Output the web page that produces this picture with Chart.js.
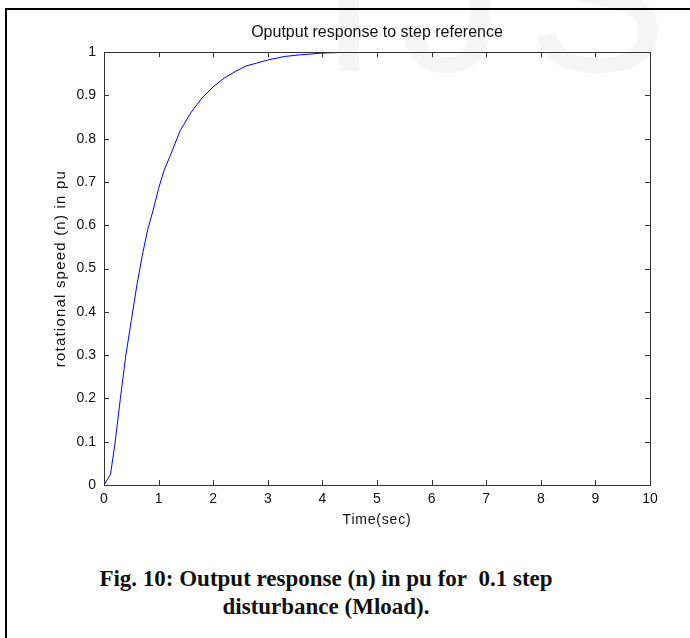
<!DOCTYPE html>
<html>
<head>
<meta charset="utf-8">
<script src="https://cdn.jsdelivr.net/npm/chart.js@4/dist/chart.umd.min.js"></script>
<style>
  body { margin: 0; background: #fff; width: 690px; height: 638px; overflow: hidden; position: relative; }
  #frame { position: absolute; left: 5px; top: 8px; width: 700px; height: 700px;
           border-top: 2px solid #000; border-left: 2px solid #000; }
  #mark { position: absolute; left: 320px; top: -122px; font: 210px "Liberation Sans", Arial, sans-serif;
          color: #f5f5f5; letter-spacing: 22px; white-space: nowrap; }
  #wrap { position: absolute; left: 0; top: 0; width: 690px; height: 540px; }
  #caption { position: absolute; left: 6px; top: 565px; width: 640px; text-align: center;
             font: bold 23px "Liberation Serif", "Times New Roman", serif; line-height: 28px; color: #111; }
</style>
</head>
<body>
<div id="mark">IJS</div>
<div id="frame"></div>
<div id="wrap"><canvas id="chart"></canvas></div>
<div id="caption">Fig. 10: Output response (n) in pu for&nbsp; 0.1 step<br>disturbance (Mload).</div>
<script>
// Data
const timeValues = [0, 0.05, 0.12, 0.2, 0.3, 0.4, 0.5, 0.6, 0.7, 0.8, 0.9, 1.0, 1.1, 1.2, 1.4, 1.6, 1.8, 2.0, 2.2, 2.4, 2.6, 2.8, 3.0, 3.3, 3.6, 4.0, 4.5, 5, 6, 7, 8, 9, 10];
const speedValues = [0, 0.01, 0.025, 0.095, 0.2, 0.3, 0.38, 0.46, 0.53, 0.59, 0.635, 0.685, 0.727, 0.757, 0.82, 0.862, 0.895, 0.92, 0.94, 0.955, 0.968, 0.975, 0.982, 0.99, 0.994, 0.998, 1.0, 1.0, 1.0, 1.0, 1.0, 1.0, 1.0];
const xTicks = [0, 1, 2, 3, 4, 5, 6, 7, 8, 9, 10];
const yTicks = [0, 0.1, 0.2, 0.3, 0.4, 0.5, 0.6, 0.7, 0.8, 0.9, 1];

const points = timeValues.map((t, i) => ({ x: t, y: speedValues[i] }));
const family = '"Liberation Sans", Arial, sans-serif';
const tickFont = { family: family, size: 14 };

// matlab spreads its axis labels out a bit
function spaced(obj, method, spacing) {
    const orig = obj[method];
    obj[method] = function (...args) {
        const c = this.ctx;
        const prev = c.letterSpacing;
        c.letterSpacing = spacing;
        orig.apply(this, args);
        c.letterSpacing = prev;
    };
}

// box and inward ticks like the matlab axes
const boxPlugin = {
    id: 'box',
    afterLayout(chart) {
        if (chart._spaced) return;
        spaced(chart.scales.y, 'drawTitle', '1.2px');
        spaced(chart.scales.x, 'drawTitle', '0.8px');
        chart._spaced = true;
    },
    afterDraw(chart) {
        const a = chart.chartArea;
        const ctx = chart.ctx;
        const x = chart.scales.x, y = chart.scales.y;
        ctx.save();
        ctx.strokeStyle = '#333';
        ctx.lineWidth = 1;
        ctx.beginPath();
        xTicks.forEach(v => {
            const px = Math.round(x.getPixelForValue(v)) + 0.5;
            ctx.moveTo(px, a.bottom); ctx.lineTo(px, a.bottom - 5);
            ctx.moveTo(px, a.top); ctx.lineTo(px, a.top + 5);
        });
        yTicks.forEach(v => {
            const py = Math.round(y.getPixelForValue(v)) + 0.5;
            ctx.moveTo(a.left, py); ctx.lineTo(a.left + 5, py);
            ctx.moveTo(a.right, py); ctx.lineTo(a.right - 5, py);
        });
        ctx.stroke();
        ctx.strokeRect(Math.round(a.left) + 0.5, Math.round(a.top) + 0.5,
            Math.round(a.right - a.left), Math.round(a.bottom - a.top));
        ctx.restore();
    }
};

new Chart(document.getElementById('chart'), {
    type: 'line',
    data: {
        datasets: [{
            data: points,
            borderColor: '#0000ff',
            borderWidth: 1,
            pointRadius: 0,
            tension: 0,
            fill: false
        }]
    },
    options: {
        responsive: true,
        maintainAspectRatio: false,
        animation: false,
        layout: { padding: { left: 48, right: 40, top: 0, bottom: 7 } },
        plugins: {
            legend: { display: false },
            tooltip: { enabled: false },
            title: {
                display: true,
                fullSize: false,
                text: 'Oputput response to step reference',
                color: '#111',
                font: { family: family, size: 16, weight: 'normal' },
                padding: { top: 23, bottom: 10 }
            }
        },
        scales: {
            x: {
                type: 'linear',
                min: 0, max: 10,
                afterBuildTicks: s => { s.ticks = xTicks.map(v => ({ value: v })); },
                grid: { display: false, drawTicks: false },
                border: { display: false },
                ticks: { color: '#111', font: tickFont, padding: 6, maxRotation: 0, callback: v => String(v) },
                title: { display: true, text: 'Time(sec)', color: '#111', font: { family: family, size: 14 }, padding: { top: 0 } },
                afterFit: s => { s.height = 48; }
            },
            y: {
                type: 'linear',
                min: 0, max: 1,
                afterBuildTicks: s => { s.ticks = yTicks.map(v => ({ value: v })); },
                grid: { display: false, drawTicks: false },
                border: { display: false },
                ticks: { color: '#111', font: tickFont, padding: 8, callback: v => String(v) },
                title: { display: true, text: 'rotational speed (n) in pu', color: '#111', font: { family: family, size: 15 }, padding: { bottom: 0 } },
                afterFit: s => { s.width = 56; }
            }
        }
    },
    plugins: [boxPlugin]
});
</script>
</body>
</html>
